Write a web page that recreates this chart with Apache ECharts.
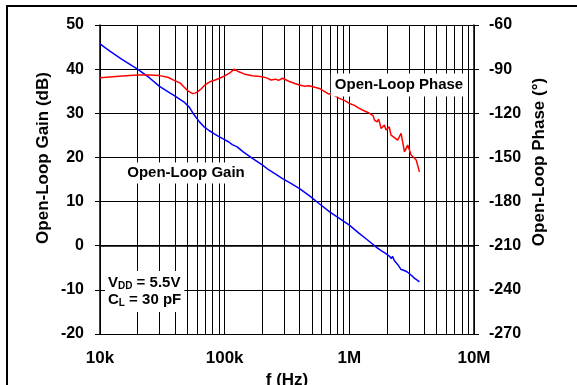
<!DOCTYPE html>
<html lang="en">
<head>
    <meta charset="UTF-8">
    <title>Open-Loop Gain and Phase</title>
    <script src="https://cdn.jsdelivr.net/npm/echarts@6.0.0/dist/echarts.min.js"></script>
    <style>
        html, body { margin: 0; padding: 0; background: #fff; overflow: hidden; }
        #chart { width: 577px; height: 385px; }
    </style>
</head>
<body>
    <div id="chart"></div>
    <script type="text/javascript">
    // values
    const gainFreq = [10000, 12000, 15000, 20000, 25000, 30000, 35000, 40000, 47000, 52000,
        57000, 63000, 68000, 75000, 82000, 90000, 99000, 108000, 115000, 126000,
        140000, 167000, 200000, 228000, 260000, 291000, 340000, 396000, 480000, 574000,
        700000, 850000, 1000000, 1200000, 1400000, 1640000, 1800000, 1970000, 2100000, 2170000,
        2220000, 2300000, 2450000, 2600000, 2700000, 2770000, 2900000, 3050000, 3200000, 3340000,
        3500000, 3650000];
    const gainDb = [45.7, 44.1, 42.2, 40.0, 38.0, 36.1, 34.9, 33.9, 32.6, 31.4,
        29.6, 28.0, 27.0, 26.1, 25.4, 24.7, 24.1, 23.5, 22.9, 22.4,
        21.3, 19.8, 18.3, 17.1, 16.1, 15.2, 14.1, 13.0, 11.3, 9.5,
        7.6, 6.0, 4.65, 2.8, 1.3, -0.3, -1.1, -1.8, -2.4, -2.9,
        -2.4, -3.4, -4.3, -5.4, -5.5, -5.7, -5.9, -6.4, -6.9, -7.4,
        -7.8, -8.2];

    const phaseFreq = [10000, 12000, 15000, 20000, 25000, 30000, 35000, 39000, 44000, 47000,
        51000, 55000, 58000, 61000, 65000, 70000, 76000, 83000, 92000, 100000,
        110000, 119000, 130000, 145000, 167000, 200000, 220000, 235000, 255000, 270000,
        291000, 330000, 396000, 440000, 477000, 574000, 670000, 750000, 832000, 920000,
        1000000, 1100000, 1200000, 1300000, 1450000, 1550000, 1590000, 1670000, 1720000, 1800000,
        1910000, 1970000, 2090000, 2160000, 2300000, 2440000, 2600000, 2770000, 2940000, 3130000,
        3300000, 3440000, 3650000];
    const phaseDeg = [-95.9, -95.3, -94.7, -94.0, -94.0, -94.4, -95.5, -97.5, -99.5, -102.0,
        -105.0, -106.5, -106.3, -105.3, -103.3, -100.5, -98.6, -97.5, -96.0, -94.6,
        -92.6, -90.0, -91.8, -93.4, -94.5, -95.2, -96.1, -97.4, -96.8, -97.6,
        -96.2, -98.4, -100.8, -101.6, -101.3, -103.1, -106.5, -107.8, -109.9, -111.4,
        -113.3, -114.6, -116.7, -118.1, -120.0, -121.6, -124.6, -125.8, -124.0, -130.3,
        -128.0, -131.4, -129.2, -134.8, -136.5, -138.2, -133.7, -146.2, -141.6, -148.4,
        -150.2, -151.8, -159.8];

    const xTickLabels = {4: '10k', 5: '100k', 6: '1M', 7: '10M'};
    const decades = [10000, 100000, 1000000];
    const minorSteps = [2, 3, 4, 5, 6, 7, 8, 9];

    // vertical grid lines between the decades (2x .. 9x)
    const minorGrid = [];
    decades.forEach(d => minorSteps.forEach(m => minorGrid.push({xAxis: d * m})));

    const font = 'Arial, "Liberation Sans", sans-serif';
    const lineCol = '#000';

    var chart = echarts.init(document.getElementById('chart'), null, {renderer: 'canvas'});

    var option = {
        backgroundColor: '#fff',
        animation: false,
        grid: {left: 100, right: 103, top: 25, bottom: 51},
        xAxis: {
            type: 'log',
            logBase: 10,
            min: 10000,
            max: 10000000,
            axisLine: {show: true, lineStyle: {color: lineCol, width: 1.5}},
            axisTick: {show: true, length: 5, lineStyle: {color: lineCol}},
            minorTick: {show: false},
            splitLine: {show: true, lineStyle: {color: lineCol, width: 1}},
            axisLabel: {
                margin: 16,
                color: '#000',
                fontFamily: font,
                fontWeight: 'bold',
                fontSize: 17,
                formatter: v => xTickLabels[Math.round(Math.log10(v))] || ''
            }
        },
        yAxis: [
            {
                type: 'value',
                min: -20,
                max: 50,
                interval: 10,
                axisLine: {show: true, lineStyle: {color: lineCol, width: 1.5}},
                axisTick: {show: true, length: 5, lineStyle: {color: lineCol}},
                splitLine: {show: true, lineStyle: {color: lineCol, width: 1}},
                axisLabel: {margin: 16, color: '#000', fontFamily: font, fontWeight: 'bold', fontSize: 16}
            },
            {
                type: 'value',
                min: -270,
                max: -60,
                interval: 30,
                position: 'right',
                axisLine: {show: true, lineStyle: {color: lineCol, width: 1.5}},
                axisTick: {show: true, length: 5, lineStyle: {color: lineCol}},
                splitLine: {show: false},
                axisLabel: {margin: 15, color: '#000', fontFamily: font, fontWeight: 'bold', fontSize: 16}
            }
        ],
        series: [
            {
                name: 'Open-Loop Gain',
                type: 'line',
                yAxisIndex: 0,
                showSymbol: false,
                symbol: 'none',
                lineStyle: {color: '#0000ff', width: 1.5},
                data: gainFreq.map((f, i) => [f, gainDb[i]]),
                z: 5,
                markLine: {
                    silent: true,
                    symbol: 'none',
                    label: {show: false},
                    animation: false,
                    lineStyle: {color: lineCol, width: 1, type: 'solid'},
                    data: minorGrid,
                    z: 1
                }
            },
            {
                name: 'Open-Loop Phase',
                type: 'line',
                yAxisIndex: 1,
                showSymbol: false,
                symbol: 'none',
                lineStyle: {color: '#ff0000', width: 1.5},
                data: phaseFreq.map((f, i) => [f, phaseDeg[i]]),
                z: 5
            }
        ],
        graphic: [
            {   // outer frame, only the top and left edges are inside the picture
                type: 'polyline',
                shape: {points: [[7, 400], [7, 6], [590, 6]]},
                style: {fill: 'none', stroke: '#000', lineWidth: 2},
                z: 10
            },
            {
                type: 'text',
                x: 43, y: 158,
                rotation: Math.PI / 2,
                style: {text: 'Open-Loop Gain (dB)', font: 'bold 17px ' + font, fill: '#000', align: 'center', verticalAlign: 'middle'}
            },
            {
                type: 'text',
                x: 539, y: 162,
                rotation: Math.PI / 2,
                style: {text: 'Open-Loop Phase (°)', font: 'bold 17px ' + font, fill: '#000', align: 'center', verticalAlign: 'middle'}
            },
            {
                type: 'text',
                x: 287, y: 372,
                style: {text: 'f (Hz)', font: 'bold 17px ' + font, fill: '#000', align: 'center', verticalAlign: 'top'}
            },
            {
                type: 'text',
                x: 186, y: 173,
                z: 20,
                style: {text: 'Open-Loop Gain', font: 'bold 15px ' + font, fill: '#000', align: 'center', verticalAlign: 'middle',
                    backgroundColor: '#fff', padding: [3, 3, 3, 3]}
            },
            {
                type: 'text',
                x: 399, y: 85,
                z: 20,
                style: {text: 'Open-Loop Phase', font: 'bold 15px ' + font, fill: '#000', align: 'center', verticalAlign: 'middle',
                    backgroundColor: '#fff', padding: [4, 4, 4, 4]}
            },
            {
                type: 'text',
                x: 105, y: 271,
                z: 20,
                style: {
                    text: '{m|V}{s|DD}{m| = 5.5V}\n{m|C}{s|L}{m| = 30 pF}',
                    fill: '#000',
                    backgroundColor: '#fff',
                    padding: [3, 3, 4, 3],
                    rich: {
                        m: {font: 'bold 15px ' + font, fill: '#000', lineHeight: 17},
                        s: {font: 'bold 10px ' + font, fill: '#000', lineHeight: 17, verticalAlign: 'bottom', padding: [6, 0, 0, 0]}
                    }
                }
            }
        ]
    };
    chart.setOption(option);
    </script>
</body>
</html>
